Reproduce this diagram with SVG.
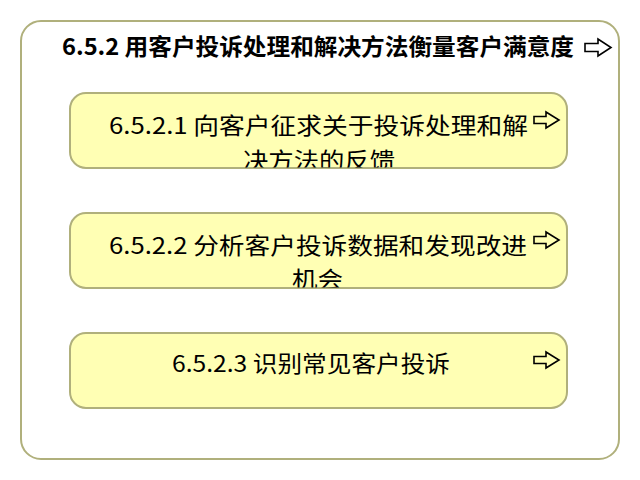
<svg xmlns="http://www.w3.org/2000/svg" width="640" height="480" viewBox="0 0 640 480">
<style>
.outer{fill:#ffffff;stroke:#b0b07c;stroke-width:2}
.box{fill:#ffffb4;stroke:#b0b07c;stroke-width:2}
.t{font-family:"Noto Sans CJK SC","Noto Sans",sans-serif;fill:#000}
.title{font-size:23px;font-weight:bold}
.sub{font-size:23px}
.arr{fill:none;stroke:#000;stroke-width:1.6;stroke-linejoin:miter}
</style>
<defs>
<clipPath id="c1"><rect x="70" y="93" width="497" height="74.5"/></clipPath>
<clipPath id="c2"><rect x="70" y="213" width="497" height="74.5"/></clipPath>
<clipPath id="c3"><rect x="70" y="333" width="497" height="74.5"/></clipPath>
</defs>
<g id="root">
<rect class="outer" x="21" y="21" width="598" height="438" rx="20" ry="20"/>
<text class="t title" x="62" y="55" textLength="512" lengthAdjust="spacingAndGlyphs">6.5.2 用客户投诉处理和解决方法衡量客户满意度</text>
<polygon class="arr" points="585,43.5 598,43.5 598,39 611,47.5 598,56 598,51.5 585,51.5"/>
</g>
<g id="n1">
<rect class="box" x="70" y="93" width="497" height="75" rx="16" ry="16"/>
<g clip-path="url(#c1)">
<text class="t sub" x="109" y="134" textLength="419" lengthAdjust="spacingAndGlyphs">6.5.2.1 向客户征求关于投诉处理和解</text>
<text class="t sub" x="243" y="168.5" textLength="152" lengthAdjust="spacingAndGlyphs">决方法的反馈</text>
</g>
<polygon class="arr" points="534,116.5 546,116.5 546,112 559,120 546,128 546,123.5 534,123.5"/>
</g>
<g id="n2">
<rect class="box" x="70" y="213" width="497" height="75" rx="16" ry="16"/>
<g clip-path="url(#c2)">
<text class="t sub" x="109" y="254" textLength="418" lengthAdjust="spacingAndGlyphs">6.5.2.2 分析客户投诉数据和发现改进</text>
<text class="t sub" x="292" y="288" textLength="51" lengthAdjust="spacingAndGlyphs">机会</text>
</g>
<polygon class="arr" points="534,236.5 546,236.5 546,232 559,240 546,248 546,243.5 534,243.5"/>
</g>
<g id="n3">
<rect class="box" x="70" y="333" width="497" height="75" rx="16" ry="16"/>
<g clip-path="url(#c3)">
<text class="t sub" x="172" y="372" textLength="278" lengthAdjust="spacingAndGlyphs">6.5.2.3 识别常见客户投诉</text>
</g>
<polygon class="arr" points="534,356.5 546,356.5 546,352 559,360 546,368 546,363.5 534,363.5"/>
</g>
<g id="connectors"></g>
</svg>
